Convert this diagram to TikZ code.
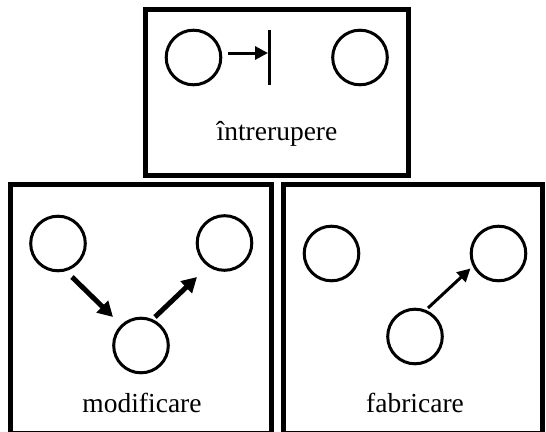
\documentclass[tikz,border=0pt]{standalone}
\usepackage{fontspec}
\setmainfont{Liberation Serif}
\usetikzlibrary{arrows.meta}
\begin{document}
\begin{tikzpicture}[x=1pt,y=-1pt,
  panel/.style={draw=black,line width=5pt},
  st/.style={circle,draw=black,line width=3pt,minimum size=54.6pt,inner sep=0pt},
  lbl/.style={anchor=base,inner sep=0pt,font=\fontsize{27.5}{33}\selectfont},
  thinarr/.style={line width=3pt,-{Triangle[length=13pt,width=13pt]}},
  thickarr/.style={line width=5pt,-{Triangle[length=15pt,width=16pt]}},
  barline/.style={line width=3pt}]
\useasboundingbox (0,0) rectangle (546,431);
\begin{scope}
\clip (0,0) rectangle (546,431);
% panels
\draw[panel] (145,9.5) rectangle (408,175);
\draw[panel] (10,184.5) rectangle (271,433.5);
\draw[panel] (283.5,184.5) rectangle (542.5,433.5);
\end{scope}
% top panel: întrerupere
\node[st] (t1) at (193.5,57.5) {};
\node[st] (t2) at (360,57.5) {};
\coordinate (bartop) at (269.5,30);
\coordinate (barbot) at (269.5,85);
\coordinate (barmid) at (268,53);
\draw[barline] (bartop) -- (barbot);
\draw[thinarr] ([shift={(34.5,-4.5)}]t1.center) -- (barmid);
\node[lbl] (tl) at (277,140) {întrerupere};
% modificare
\node[st] (m1) at (58,243.5) {};
\node[st] (m2) at (224.5,243) {};
\node[st] (m3) at (141,345.5) {};
\draw[thickarr] ([shift={(14,33.5)}]m1.center) -- ([shift={(-28,-28.5)}]m3.center);
\draw[thickarr] ([shift={(14,-28.5)}]m3.center) -- ([shift={(-27.5,34)}]m2.center);
\node[lbl] (ml) at (142,412) {modificare};
% fabricare
\node[st] (f1) at (331.5,253.5) {};
\node[st] (f2) at (498.5,253.5) {};
\node[st] (f3) at (415,336.5) {};
\draw[thinarr] ([shift={(13,-28.5)}]f3.center) -- ([shift={(-28,15)}]f2.center);
\node[lbl] (fl) at (415,412) {fabricare};
\end{tikzpicture}
\end{document}
